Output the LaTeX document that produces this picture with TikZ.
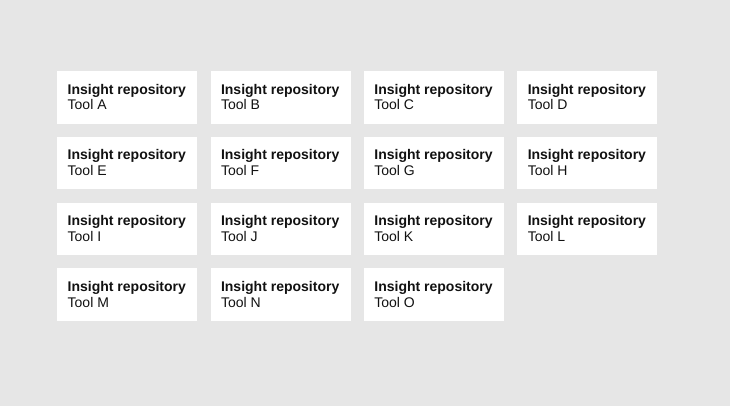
\documentclass[tikz,border=0pt]{standalone}
\usepackage{fontspec}
\setmainfont{Liberation Sans}
\definecolor{bggray}{HTML}{E6E6E6}
\definecolor{ink}{HTML}{111111}
\tikzset{
  card/.style={fill=white, draw=none},
  ttl/.style={anchor=base west, inner sep=0pt, font=\fontsize{14}{16}\selectfont\bfseries, text=ink},
  sub/.style={anchor=base west, inner sep=0pt, font=\fontsize{14}{16}\selectfont, text=ink}
}
\begin{document}
\begin{tikzpicture}[x=1pt,y=-1pt]
\fill[bggray] (0,0) rectangle (730,406);
\useasboundingbox (0,0) rectangle (730,406);
\foreach \lab [count=\i from 0] in {A,B,C,D,E,F,G,H,I,J,K,L,M,N,O}{
  \pgfmathtruncatemacro{\c}{mod(\i,4)}
  \pgfmathtruncatemacro{\r}{div(\i,4)}
  \pgfmathsetmacro{\bx}{57+153.35*\c}
  \pgfmathsetmacro{\by}{71+65.7*\r}
  \node[card, minimum width=140pt, minimum height=52.5pt, inner sep=0pt, anchor=north west] (box\lab) at (\bx,\by) {};
  \node[ttl] (t\lab) at ([xshift=10.5pt,yshift=-23.3pt]box\lab.north west) {Insight repository};
  \node[sub] (s\lab) at ([xshift=10.5pt,yshift=-39pt]box\lab.north west) {Tool \lab};
}
\end{tikzpicture}
\end{document}
